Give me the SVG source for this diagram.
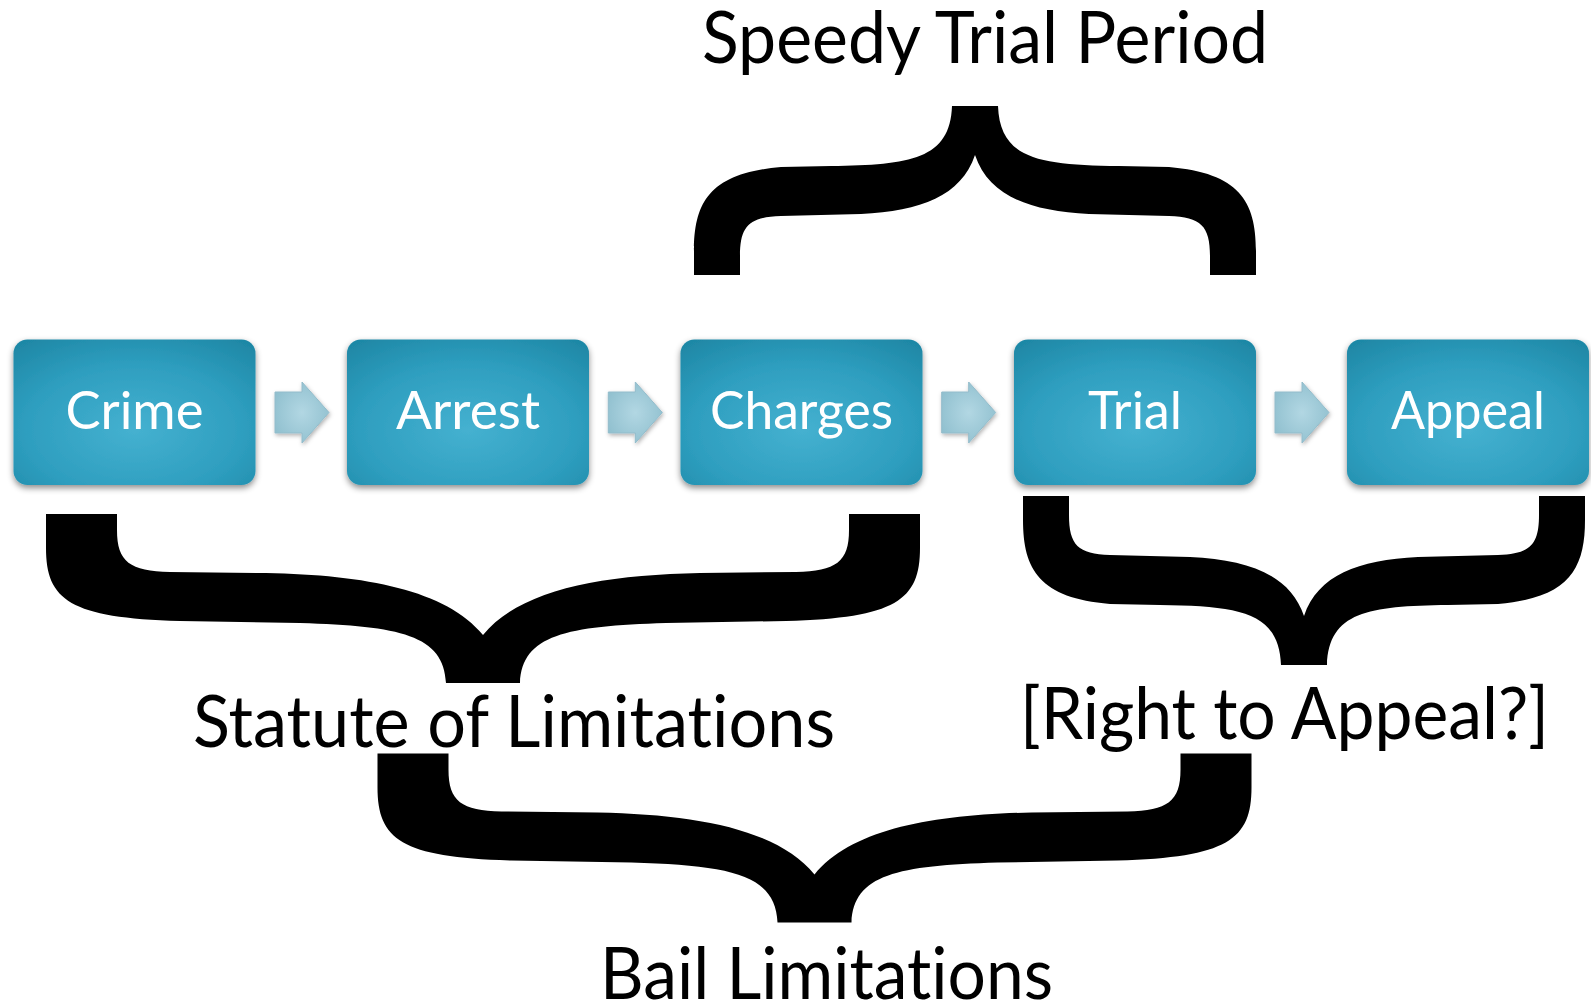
<svg xmlns="http://www.w3.org/2000/svg" xmlns:xlink="http://www.w3.org/1999/xlink" width="1591" height="1002" viewBox="0 0 1591 1002">
  <style>
    .box { fill: url(#boxGrad); filter: url(#shadow); }
    .lbl { font-family: Lato, "Open Sans", "Liberation Sans", sans-serif; font-size: 52px; fill: #ffffff; text-anchor: middle; font-variant-ligatures: none; }
    .cap { font-family: Lato, "Open Sans", "Liberation Sans", sans-serif; font-size: 72px; fill: #000000; font-variant-ligatures: none; }
    .brace { fill: #000000; }
    .arrow { fill: url(#arrowGrad); stroke: #93bccb; stroke-width: 1; stroke-linejoin: round; filter: url(#ashadow); }
  </style>
  <defs>
    <radialGradient id="boxGrad" cx="0.5" cy="0.62" r="0.75">
      <stop offset="0" stop-color="#45b1d0"/>
      <stop offset="0.6" stop-color="#2e9ebf"/>
      <stop offset="1" stop-color="#1f88a6"/>
    </radialGradient>
    <radialGradient id="arrowGrad" cx="0.5" cy="0.5" r="0.6">
      <stop offset="0" stop-color="#b2d7e3"/>
      <stop offset="1" stop-color="#8fbfce"/>
    </radialGradient>
    <filter id="shadow" x="-10%" y="-10%" width="120%" height="130%">
      <feDropShadow dx="0" dy="3" stdDeviation="3" flood-color="#000000" flood-opacity="0.45"/>
    </filter>
    <filter id="ashadow" x="-20%" y="-20%" width="150%" height="150%">
      <feDropShadow dx="1" dy="2" stdDeviation="2" flood-color="#000000" flood-opacity="0.3"/>
    </filter>
    <path id="arrowShape" d="M275,392 L302,392 L302,382 L329,412.5 L302,443 L302,433 L275,433 Z"/>
    <path id="braceSmall" d="M1023,496 L1023,520 C1023,570 1040,598 1110,604 L1160,605 C1240,606 1279,612 1281,665 L1327,665 C1329,612 1368,606 1448,605 L1498,604 C1568,598 1585,570 1585,520 L1585,496 L1539,496 L1539,515 C1539,545 1530,554 1498,555 L1418,557 C1358,560 1318,575 1304,616 C1290,575 1250,560 1190,557 L1110,555 C1078,554 1069,545 1069,515 L1069,496 Z"/>
    <path id="braceBig" d="M46,514 L46,548 C46,600 70,618 180,621 L300,623 C400,626 444,635 446,683 L520,683 C522,635 566,626 666,623 L786,621 C896,618 920,600 920,548 L920,514 L849,514 L849,530 C849,562 836,571 796,572 L700,573 C600,575 520,590 483,635 C446,590 366,575 266,573 L170,572 C130,571 117,562 117,530 L117,514 Z"/>
  </defs>

  <rect width="1591" height="1002" fill="#ffffff"/>

  <g id="connectors">
    <use xlink:href="#arrowShape" class="arrow"/>
    <use xlink:href="#arrowShape" class="arrow" transform="translate(333.3,0)"/>
    <use xlink:href="#arrowShape" class="arrow" transform="translate(666.7,0)"/>
    <use xlink:href="#arrowShape" class="arrow" transform="translate(1000,0)"/>
    <use xlink:href="#arrowShape" class="arrow" transform="translate(1333.3,0)"/>
  </g>

  <g id="node-crime">
    <rect class="box" x="13.5" y="339.5" width="242" height="145.5" rx="14"/>
    <text class="lbl" x="134.5" y="429" textLength="138" lengthAdjust="spacingAndGlyphs">Crime</text>
  </g>
  <g id="node-arrest">
    <rect class="box" x="347" y="339.5" width="242" height="145.5" rx="14"/>
    <text class="lbl" x="468" y="429" textLength="144" lengthAdjust="spacingAndGlyphs">Arrest</text>
  </g>
  <g id="node-charges">
    <rect class="box" x="680.5" y="339.5" width="242" height="145.5" rx="14"/>
    <text class="lbl" x="801.5" y="429" textLength="183" lengthAdjust="spacingAndGlyphs">Charges</text>
  </g>
  <g id="node-trial">
    <rect class="box" x="1014" y="339.5" width="242" height="145.5" rx="14"/>
    <text class="lbl" x="1135" y="429" textLength="94" lengthAdjust="spacingAndGlyphs">Trial</text>
  </g>
  <g id="node-appeal">
    <rect class="box" x="1347" y="339.5" width="242" height="145.5" rx="14"/>
    <text class="lbl" x="1468" y="429" textLength="154" lengthAdjust="spacingAndGlyphs">Appeal</text>
  </g>

  <g id="brace-speedy">
    <use xlink:href="#braceSmall" class="brace" transform="translate(-329,771) scale(1,-1)"/>
    <text class="cap" x="702" y="63" textLength="566" lengthAdjust="spacingAndGlyphs">Speedy Trial Period</text>
  </g>
  <g id="brace-statute">
    <use xlink:href="#braceBig" class="brace"/>
    <text class="cap" x="193" y="747" textLength="642" lengthAdjust="spacingAndGlyphs">Statute of Limitations</text>
  </g>
  <g id="brace-appeal">
    <use xlink:href="#braceSmall" class="brace"/>
    <text class="cap" x="1020" y="739" textLength="529" lengthAdjust="spacingAndGlyphs">[Right to Appeal?]</text>
  </g>
  <g id="brace-bail">
    <use xlink:href="#braceBig" class="brace" transform="translate(331.5,239.5)"/>
    <text class="cap" x="600" y="999" textLength="453" lengthAdjust="spacingAndGlyphs">Bail Limitations</text>
  </g>
</svg>
